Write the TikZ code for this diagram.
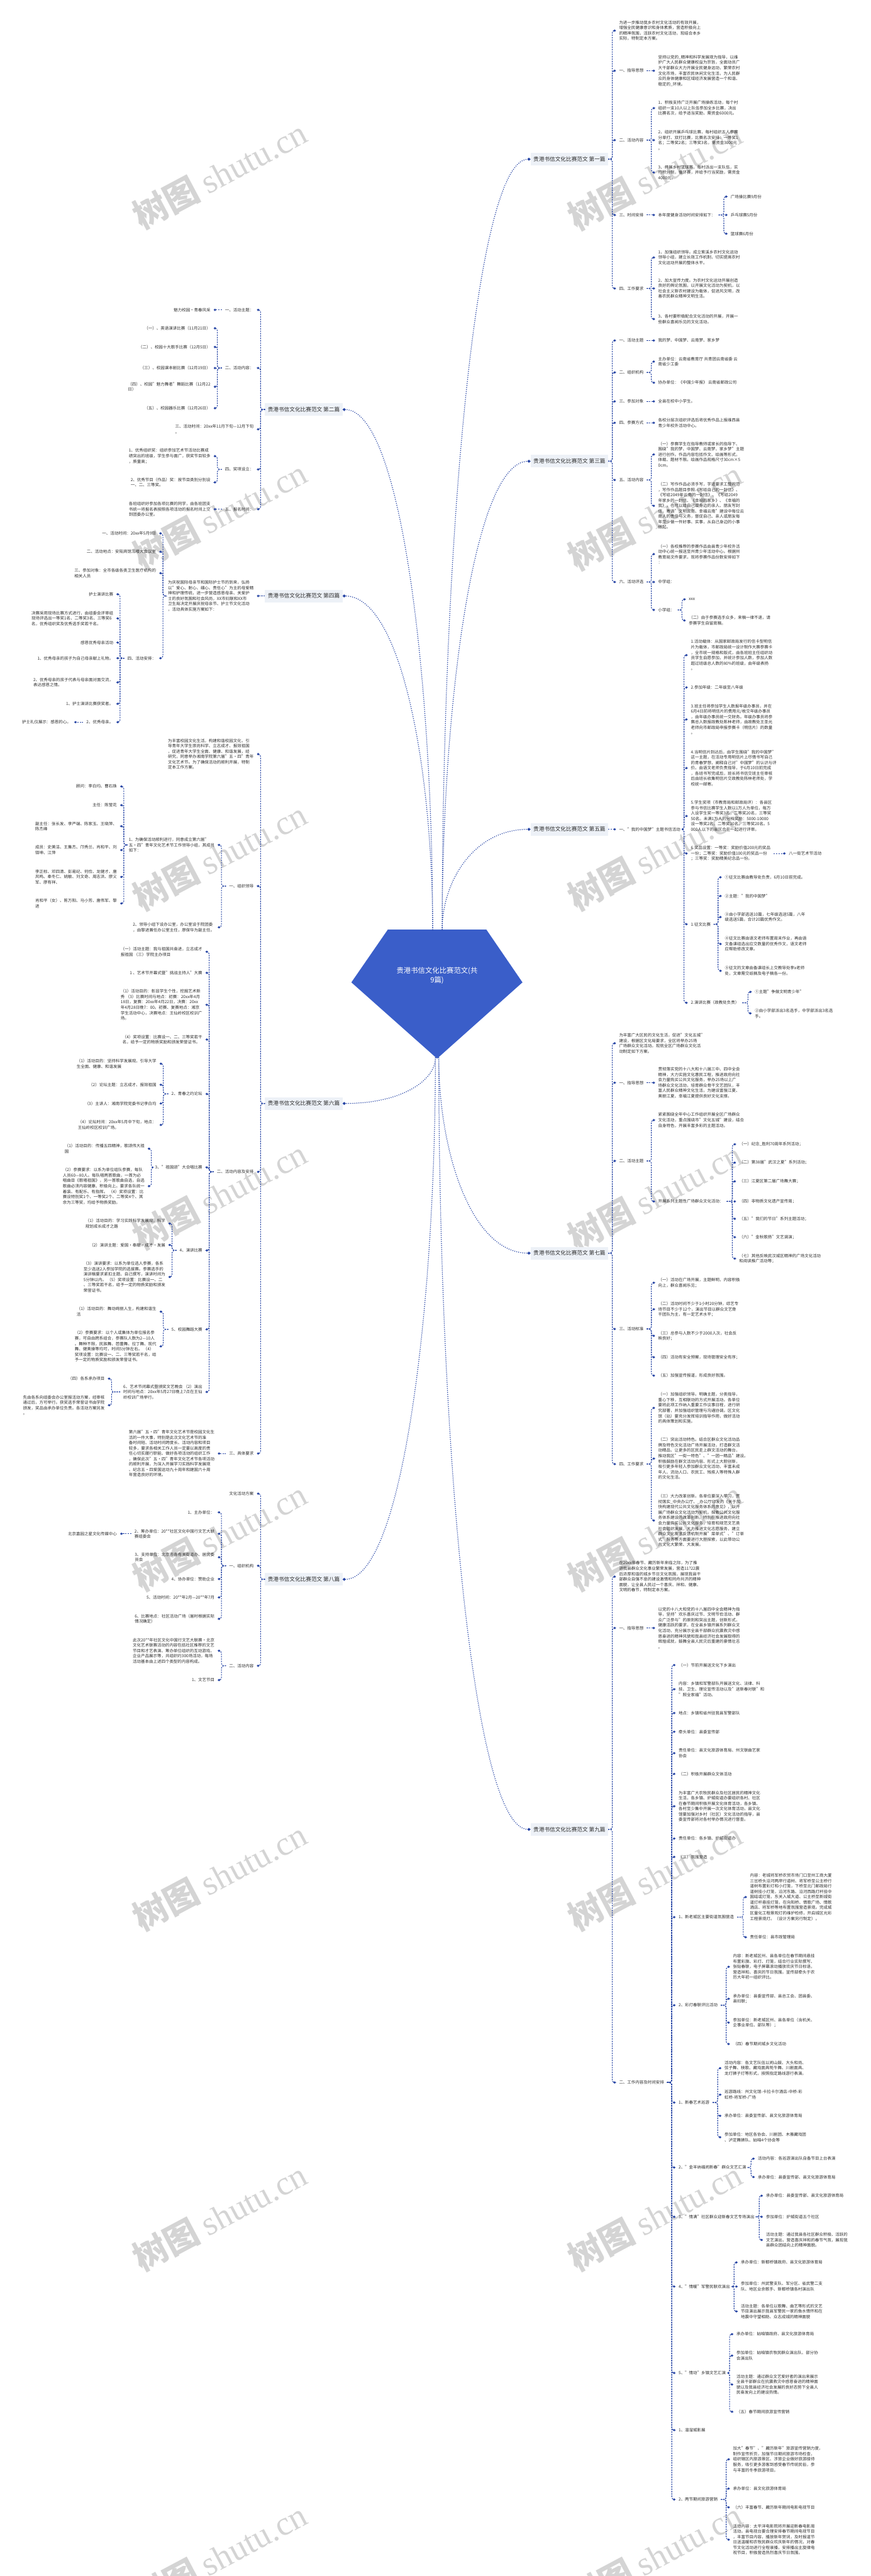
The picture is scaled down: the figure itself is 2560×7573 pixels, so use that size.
\documentclass[tikz,border=0pt]{standalone}
\usepackage{fontspec}
\setmainfont{Noto Sans CJK SC}
\newfontfamily\wmlatin{Liberation Serif}
\usetikzlibrary{arrows.meta}
\definecolor{linkblue}{RGB}{40,70,165}
\definecolor{hubblue}{RGB}{58,94,201}
\definecolor{labbg}{RGB}{237,241,247}
\definecolor{txt}{RGB}{45,45,45}
\newcommand\leaffont{\fontsize{12}{15.8}\selectfont}
\tikzset{
	rn/.style={anchor=west, align=left, font=\leaffont, text=txt, inner xsep=9pt, inner ysep=1pt},
	ln/.style={anchor=east, align=left, font=\leaffont, text=txt, inner xsep=9pt, inner ysep=1pt},
	plr/.style={anchor=east, fill=labbg, text=txt, font=\fontsize{16}{19}\selectfont, minimum height=37pt, inner xsep=8pt},
	pll/.style={plr, anchor=west},
	lnk/.style={draw=linkblue, line width=2pt, dash pattern=on 4pt off 3pt, rounded corners=7pt, -{Diamond[length=8pt,width=7pt]}},
	rl/.style={lnk, to path={-- ([xshift=-11pt]\tikztotarget.west |- \tikztostart) |- (\tikztotarget.west)}},
	ll/.style={lnk, to path={-- ([xshift=11pt]\tikztotarget.east |- \tikztostart) |- (\tikztotarget.east)}},
	mlnk/.style={draw=linkblue, line width=3.2pt, line cap=round, dash pattern=on 0pt off 6pt, -{Diamond[length=10pt,width=9pt]}},
	wm/.style={rotate=28, text=black!17, font=\fontsize{100}{100}\selectfont}
}

\begin{document}
\begin{tikzpicture}[x=1pt, y=-1pt]
			%%%%% START %%%%%
			\useasboundingbox (0,0) rectangle (2560,7573);
			
			\node[wm] (wm1) at (646,512) {{\bfseries 树图} {\wmlatin shutu.cn}};
			\node[wm] (wm2) at (646,1512) {{\bfseries 树图} {\wmlatin shutu.cn}};
			\node[wm] (wm3) at (646,2515) {{\bfseries 树图} {\wmlatin shutu.cn}};
			\node[wm] (wm4) at (646,3512) {{\bfseries 树图} {\wmlatin shutu.cn}};
			\node[wm] (wm5) at (646,4515) {{\bfseries 树图} {\wmlatin shutu.cn}};
			\node[wm] (wm6) at (646,5515) {{\bfseries 树图} {\wmlatin shutu.cn}};
			\node[wm] (wm7) at (646,6515) {{\bfseries 树图} {\wmlatin shutu.cn}};
			\node[wm] (wm8) at (646,7515) {{\bfseries 树图} {\wmlatin shutu.cn}};
			\node[wm] (wm9) at (1925,515) {{\bfseries 树图} {\wmlatin shutu.cn}};
			\node[wm] (wm10) at (1925,1515) {{\bfseries 树图} {\wmlatin shutu.cn}};
			\node[wm] (wm11) at (1925,2515) {{\bfseries 树图} {\wmlatin shutu.cn}};
			\node[wm] (wm12) at (1925,3515) {{\bfseries 树图} {\wmlatin shutu.cn}};
			\node[wm] (wm13) at (1925,4515) {{\bfseries 树图} {\wmlatin shutu.cn}};
			\node[wm] (wm14) at (1925,5515) {{\bfseries 树图} {\wmlatin shutu.cn}};
			\node[wm] (wm15) at (1925,6515) {{\bfseries 树图} {\wmlatin shutu.cn}};
			\node[wm] (wm16) at (1925,7515) {{\bfseries 树图} {\wmlatin shutu.cn}};
			
			\fill[hubblue] (1140,2733) -- (1430,2733) -- (1536,2888) -- (1285,3112) -- (1033,2888) -- cycle;
			\node[text=white, align=center, font=\fontsize{21}{29}\selectfont] (hub) at (1285,2868) {贵港书信文化比赛范文(共\\9篇)};
			\coordinate (htr) at (1300,2733);
			\coordinate (htl) at (1272,2733);
			\coordinate (hbr) at (1290,3110);
			\coordinate (hbl) at (1280,3110);
			
			\node[plr] (p1) at (1788,468) {贵港书信文化比赛范文 第一篇};
			\node[plr] (p3) at (1788,1356) {贵港书信文化比赛范文 第三篇};
			\node[plr] (p5) at (1788,2438) {贵港书信文化比赛范文 第五篇};
			\node[plr] (p7) at (1788,3684) {贵港书信文化比赛范文 第七篇};
			\node[plr] (p9) at (1788,5378) {贵港书信文化比赛范文 第九篇};
			\node[pll] (p2) at (779,1204) {贵港书信文化比赛范文 第二篇};
			\node[pll] (p4) at (779,1752) {贵港书信文化比赛范文 第四篇};
			\node[pll] (p6) at (779,3244) {贵港书信文化比赛范文 第六篇};
			\node[pll] (p8) at (779,4643) {贵港书信文化比赛范文 第八篇};
			
			\draw[mlnk] (htr) .. controls (1300,1646) and (1393,468) .. (p1.west);
			\draw[mlnk] (htr) .. controls (1300,2072) and (1393,1356) .. (p3.west);
			\draw[mlnk] (htr) .. controls (1300,2591) and (1393,2438) .. (p5.west);
			\draw[mlnk] (hbr) .. controls (1290,3387) and (1386,3684) .. (p7.west);
			\draw[mlnk] (hbr) .. controls (1290,4200) and (1386,5378) .. (p9.west);
			\draw[mlnk] (htl) .. controls (1272,2000) and (1180,1204) .. (p2.east);
			\draw[mlnk] (htl) .. controls (1272,2262) and (1180,1752) .. (p4.east);
			\draw[mlnk] (hbl) .. controls (1280,3175) and (1183,3244) .. (p6.east);
			\draw[mlnk] (hbl) .. controls (1280,3847) and (1183,4643) .. (p8.east);
			
			% 第一篇
			\node[rn] (p1a) at (1811,90) {为进一步推动我乡农村文化活动的有效开展，\\增强全民健康意识和身体素质，营造积极向上\\的精神氛围，活跃农村文化活动，现结合本乡\\实际，特制定本方案。};
			\node[rn] (p1b) at (1811,208) {一、指导思想};
			\node[rn] (p1b1) at (1926,208) {坚持以党的\_精神和科学发展观为指导，以维\\护广大人民群众健康权益为宗旨，全面动员广\\大干部群众大力开展全民健身运动，繁荣农村\\文化市场，丰富农民休闲文化生活，为人民群\\众的身体健康和区域经济发展营造一个和谐、\\稳定的\_环境。};
			\node[rn] (p1c) at (1811,412) {二、活动内容};
			\node[rn] (p1c1) at (1926,318) {1、积极支持广泛开展广场操练活动，每个村\\组织一支10人以上队伍参加全乡比赛，决出\\比赛名次，给予适当奖励，需资金6000元。};
			\node[rn] (p1c2) at (1926,412) {2、组织开展乒乓球比赛，每村组织五人参赛\\分单打、双打比赛，比赛名次安排：一等奖1\\名；二等奖2名；三等奖3名，需资金3000元\\。};
			\node[rn] (p1c3) at (1926,507) {3、开展乡村篮球赛，每村派出一支队伍，实\\行积分制，循环赛，并给予行当奖励，需资金\\4000元。};
			\node[rn] (p1d) at (1811,632) {三、时间安排};
			\node[rn] (p1d1) at (1926,632) {本年度健身活动时间安排如下：};
			\node[rn] (p1d1a) at (2139,578) {广场操比赛9月份};
			\node[rn] (p1d1b) at (2139,632) {乒乓球赛5月份};
			\node[rn] (p1d1c) at (2139,687) {篮球赛6月份};
			\node[rn] (p1e) at (1811,848) {四、工作要求};
			\node[rn] (p1e1) at (1926,757) {1、加强组织领导。成立紫溪乡农村文化运动\\领导小组，建立长效工作机制，切实提高农村\\文化运动开展的整体水平。};
			\node[rn] (p1e2) at (1926,848) {2、加大宣传力度。为农村文化运动开展创造\\良好的舆论氛围，以开展文化活动为契机，以\\社会主义新农村建设为载体，促进风文明，改\\善农民群众精神文明生活。};
			\node[rn] (p1e3) at (1926,938) {3、各村要积极配合文化活动的开展，开展一\\些群众喜闻乐见的文化活动。};
			
			\draw[rl] (p1.east) to (p1a);
			\draw[rl] (p1.east) to (p1b);
			\draw[rl] (p1.east) to (p1c);
			\draw[rl] (p1.east) to (p1d);
			\draw[rl] (p1.east) to (p1e);
			\draw[lnk] (p1b.east) -- (p1b1.west);
			\draw[rl] (p1c.east) to (p1c1);
			\draw[lnk] (p1c.east) -- (p1c2.west);
			\draw[rl] (p1c.east) to (p1c3);
			\draw[lnk] (p1d.east) -- (p1d1.west);
			\draw[rl] (p1d1.east) to (p1d1a);
			\draw[lnk] (p1d1.east) -- (p1d1b.west);
			\draw[rl] (p1d1.east) to (p1d1c);
			\draw[rl] (p1e.east) to (p1e1);
			\draw[lnk] (p1e.east) -- (p1e2.west);
			\draw[rl] (p1e.east) to (p1e3);
			
			% 第三篇
			\node[rn] (p3a) at (1811,1001) {一、活动主题};
			\node[rn] (p3a1) at (1926,1001) {我的梦、中国梦、云南梦、家乡梦};
			\node[rn] (p3b) at (1811,1095) {二、组织机构};
			\node[rn] (p3b1) at (1926,1063) {主办单位：云南省教育厅 共青团云南省委 云\\南省少工委};
			\node[rn] (p3b2) at (1926,1125) {协办单位：《中国少年报》 云南省邮政公司};
			\node[rn] (p3c) at (1811,1180) {三、参加对象};
			\node[rn] (p3c1) at (1926,1180) {全县在校中小学生。};
			\node[rn] (p3d) at (1811,1243) {四、参赛方式};
			\node[rn] (p3d1) at (1926,1243) {各校分层次组织评选后将优秀作品上报维西县\\青少年校外活动中心。};
			\node[rn] (p3e) at (1811,1411) {五、活动内容};
			\node[rn] (p3e1) at (1926,1336) {（一）参赛学生在指导教师或家长的指导下、\\围绕"我的梦、中国梦、云南梦、家乡梦"主题\\进行创作。作品内容包括作文、绘画等形式，\\体裁、题材不限。绘画作品规格尺寸30cm×5\\0cm。};
			\node[rn] (p3e2) at (1926,1487) {（二）写作作品必须手写，字迹要求工整规范\\，写作作品题目参照《写给自己的一封信》、\\《写给2049年云南的一封信》、《写给2049\\年家乡的一封信、《幸福的家乡》、《幸福的\\我》，也可以给自己或身边的亲人、朋友写封\\信，寄语"文明云南、幸福云南"建设中每位云\\南人的责任与义务，督促自己、亲人或朋友每\\年至少做一件好事、实事，从自己身边的小事\\做起。};
			\node[rn] (p3f) at (1811,1711) {六、活动评选};
			\node[rn] (p3f1) at (1926,1629) {（一）各校推荐的参赛作品由县青少年校外活\\动中心统一报送至州青少年活动中心。根据州\\教育局文件要求，现将参赛作品份数安排如下\\：};
			\node[rn] (p3f2) at (1926,1711) {中学组：};
			\node[rn] (p3f3) at (1926,1793) {小学组：};
			\node[rn] (p3f3a) at (2016,1762) {xxx};
			\node[rn] (p3f3b) at (2016,1824) {（二）由于参赛选手众多，来稿一律不退，请\\参赛学生自留底稿。};
			
			\draw[rl] (p3.east) to (p3a);
			\draw[rl] (p3.east) to (p3b);
			\draw[rl] (p3.east) to (p3c);
			\draw[rl] (p3.east) to (p3d);
			\draw[rl] (p3.east) to (p3e);
			\draw[rl] (p3.east) to (p3f);
			\draw[lnk] (p3a.east) -- (p3a1.west);
			\draw[rl] (p3b.east) to (p3b1);
			\draw[rl] (p3b.east) to (p3b2);
			\draw[lnk] (p3c.east) -- (p3c1.west);
			\draw[lnk] (p3d.east) -- (p3d1.west);
			\draw[rl] (p3e.east) to (p3e1);
			\draw[rl] (p3e.east) to (p3e2);
			\draw[rl] (p3f.east) to (p3f1);
			\draw[lnk] (p3f.east) -- (p3f2.west);
			\draw[rl] (p3f.east) to (p3f3);
			\draw[rl] (p3f3.east) to (p3f3a);
			\draw[rl] (p3f3.east) to (p3f3b);
			
			% 第五篇
			\node[rn] (p5a) at (1811,2438) {一、"我的中国梦"主题书信活动};
			\node[rn] (p5a1) at (2022,1926) {1.活动载体：从国家邮政局发行的信卡型明信\\片为载体，市邮政局统一设计制作大赛参赛卡\\，全市统一规格和版式，由各班班主任组织动\\员学生自愿参加，并统计参加人数，参加人数\\超过班级总人数的80\%的班级，由年级表扬\\。};
			\node[rn] (p5a2) at (2022,2021) {2.参加年级：二年级至八年级};
			\node[rn] (p5a3) at (2022,2115) {3.班主任将参加学生人数报年级办事员，并在\\6月4日前将明信片的费用元/枚交年级办事员\\，由年级办事员统一交财务。年级办事员将参\\赛总人数报政教处陈林老师，由政教处王圣光\\老师向市邮政局申报参赛卡（明信片）的数量\\。};
			\node[rn] (p5a4) at (2022,2258) {4.当明信片到达后，由学生围绕"我的中国梦"\\这一主题，在活动专用明信片上尽情书写自己\\的青春梦想，阐释自己对"中国梦"的认识与评\\价。由语文老师负责指导，于6月10日前完成\\，各班书写完成后，班长将书信交班主任审核\\后由班长收集明信片交政教处陈林老师处，学\\校统一邮寄。};
			\node[rn] (p5a5) at (2022,2399) {5.学生奖项（市教育局和邮政局评）：各县区\\参与书信比赛学生人数以1万人为单位，每万\\人设学生奖一等奖3名，二等奖20名，三等奖\\50名。未满1万人的分档奖励：5000-10000\\设一等奖2名，二等奖10名，三等奖20名。5\\000人以下的县区合在一起进行评审。};
			\node[rn] (p5a6) at (2022,2509) {6.奖品设置：一等奖：奖励价值200元的奖品\\一份；二等奖：奖励价值100元的奖品一份\\；三等奖：奖励精美纪念品一份。};
			\node[rn] (p5a6a) at (2310,2509) {八一街艺术节活动};
			\node[rn] (p5a7) at (2022,2717) {1.征文比赛};
			\node[rn] (p5a7a) at (2122,2579) {①征文比赛由教导处负责，6月10日前完成。};
			\node[rn] (p5a7b) at (2122,2634) {②主题："我的中国梦"};
			\node[rn] (p5a7c) at (2122,2696) {③由小学部选送10篇，七年级选送5篇，八年\\级选送5篇，合计20篇优秀作文。};
			\node[rn] (p5a7d) at (2122,2775) {④征文比赛由语文老师布置周末作业，再由语\\文备课组选出应交数量的优秀作文，语文老师\\应帮助修改文章。};
			\node[rn] (p5a7e) at (2122,2854) {⑤征文的文章由备课组长上交教导处李x老师\\处，文章需交纸稿及电子稿各一份。};
			\node[rn] (p5a8) at (2022,2948) {2.演讲比赛（政教处负责）};
			\node[rn] (p5a8a) at (2210,2916) {①主题"争做文明青少年"};
			\node[rn] (p5a8b) at (2210,2979) {②由小学部派出3名选手，中学部派出3名选\\手。};
			
			\draw[lnk] (p5.east) -- (p5a.west);
			\draw[rl] (p5a.east) to (p5a1);
			\draw[rl] (p5a.east) to (p5a2);
			\draw[rl] (p5a.east) to (p5a3);
			\draw[rl] (p5a.east) to (p5a4);
			\draw[rl] (p5a.east) to (p5a5);
			\draw[rl] (p5a.east) to (p5a6);
			\draw[rl] (p5a.east) to (p5a7);
			\draw[rl] (p5a.east) to (p5a8);
			\draw[lnk] (p5a6.east |- p5a6a.west) -- (p5a6a.west);
			\draw[rl] (p5a7.east) to (p5a7a);
			\draw[rl] (p5a7.east) to (p5a7b);
			\draw[rl] (p5a7.east) to (p5a7c);
			\draw[rl] (p5a7.east) to (p5a7d);
			\draw[rl] (p5a7.east) to (p5a7e);
			\draw[rl] (p5a8.east) to (p5a8a);
			\draw[rl] (p5a8.east) to (p5a8b);
			
			% 第七篇
			\node[rn] (p7a) at (1811,3067) {为丰富广大区民的文化生活，促进"文化五城"\\建设，根据区文化局要求，全区将举办25场\\广场群众文化活动。现就全区广场群众文化活\\动制定如下方案。};
			\node[rn] (p7b) at (1811,3183) {一、指导思想};
			\node[rn] (p7b1) at (1926,3183) {贯彻落实党的十八大和十八届三中、四中全会\\精神，大力实施文化惠民工程，推进政府向社\\会力量购买公共文化服务，举办25场以上广\\场群众文化活动，培育群众骨干文艺团队，丰\\富人民群众精神文化生活，为建设富强江夏、\\美丽江夏、幸福江夏提供良好文化支撑。};
			\node[rn] (p7c) at (1811,3413) {二、活动主题};
			\node[rn] (p7c1) at (1926,3293) {紧紧围绕全年中心工作组织开展全区广场群众\\文化活动，重点围绕市"文化五城"建设，结合\\自身特色，开展丰富多彩的主题活动。};
			\node[rn] (p7c2) at (1926,3532) {开展系列主题性广场群众文化活动：};
			\node[rn] (p7c2a) at (2164,3364) {（一）纪念\_胜利70周年系列活动；};
			\node[rn] (p7c2b) at (2164,3418) {（二）第38届"武汉之夏"系列活动；};
			\node[rn] (p7c2c) at (2164,3473) {（三）江夏区第二届广场舞大赛；};
			\node[rn] (p7c2d) at (2164,3532) {（四）非物质文化遗产宣传周；};
			\node[rn] (p7c2e) at (2164,3583) {（五）"我们的节日"系列主题活动；};
			\node[rn] (p7c2f) at (2164,3637) {（六）"金秋歌扬"文艺调演；};
			\node[rn] (p7c2g) at (2164,3700) {（七）其他反映武汉城区精神的广场文化活动\\和阅读推广活动等；};
			\node[rn] (p7d) at (1811,3907) {三、活动标准};
			\node[rn] (p7d1) at (1926,3771) {（一）活动在广场开展，主题鲜明，内容积极\\向上，群众喜闻乐见；};
			\node[rn] (p7d2) at (1926,3849) {（二）活动时间不少于1小时20分钟，综艺专\\场节目不少于12个，演出节目以群众文艺骨\\干团队为主，有一定艺术水平；};
			\node[rn] (p7d3) at (1926,3927) {（三）总参与人数不少于2000人次，社会反\\映良好；};
			\node[rn] (p7d4) at (1926,3990) {（四）活动有安全预案，现场管理安全有序；};
			\node[rn] (p7d5) at (1926,4044) {（五）加强宣传报道，形成良好氛围。};
			\node[rn] (p7e) at (1811,4304) {四、工作要求};
			\node[rn] (p7e1) at (1926,4139) {（一）加强组织领导。明确主题，分类指导，\\重心下移，互相联动的方式开展活动。各单位\\要将此项工作纳入重要工作议事日程，进行研\\究部署，并加强组织管理与沟通协调。区文化\\馆（站）要充分发挥培训指导作用，做好活动\\的具体策划和实施。};
			\node[rn] (p7e2) at (1926,4288) {（二）突出活动特色。结合区群众文化活动品\\牌及特色文化活动广场开展活动，打造群文活\\动精品，让更多的区民走上群文活动的舞台，\\推动我区"一街一特色"、"一团一精品"建设。\\积极鼓励在群文活动内容、形式上大胆创新，\\吸引更多年轻人参加群众文化活动，丰富未成\\年人、流动人口、农民工、残疾人等特殊人群\\的文化生活。};
			\node[rn] (p7e3) at (1926,4470) {（三）大力改革创新。各单位要深入学习，贯\\彻落实\_中央办公厅、\_办公厅印发的《关于加\\快构建现代公共文化服务体系的意见》，以开\\展广场群众文化活动为契机，探索公共文化服\\务体系建设的改革创新。特别在推进政府向社\\会力量购买公共文化服务，培育和规范文艺类\\社会组织发展，大力推进文化志愿服务，建立\\群众文化需求反馈机制开展"菜单式"、"订单\\式"服务等方面要进行大胆探索，以此带动公\\共文化大繁荣、大发展。};
			
			\draw[rl] (p7.east) to (p7a);
			\draw[rl] (p7.east) to (p7b);
			\draw[rl] (p7.east) to (p7c);
			\draw[rl] (p7.east) to (p7d);
			\draw[rl] (p7.east) to (p7e);
			\draw[lnk] (p7b.east) -- (p7b1.west);
			\draw[rl] (p7c.east) to (p7c1);
			\draw[rl] (p7c.east) to (p7c2);
			\draw[rl] (p7c2.east) to (p7c2a);
			\draw[rl] (p7c2.east) to (p7c2b);
			\draw[rl] (p7c2.east) to (p7c2c);
			\draw[lnk] (p7c2.east) -- (p7c2d.west);
			\draw[rl] (p7c2.east) to (p7c2e);
			\draw[rl] (p7c2.east) to (p7c2f);
			\draw[rl] (p7c2.east) to (p7c2g);
			\draw[rl] (p7d.east) to (p7d1);
			\draw[rl] (p7d.east) to (p7d2);
			\draw[rl] (p7d.east) to (p7d3);
			\draw[rl] (p7d.east) to (p7d4);
			\draw[rl] (p7d.east) to (p7d5);
			\draw[rl] (p7e.east) to (p7e1);
			\draw[rl] (p7e.east) to (p7e2);
			\draw[rl] (p7e.east) to (p7e3);
			
			% 第九篇
			\node[rn] (p9a) at (1811,4635) {在20xx年春节、藏历新年来临之际，为了推\\进我县群众文化事业繁荣发展，营造11?22震\\后浓厚和谐的城乡节日文化氛围，展现我县干\\部群众自强不息的建设激情和同舟共济的精神\\面貌，让全县人民过一个喜庆、祥和、健康、\\文明的春节，特制定本方案。};
			\node[rn] (p9b) at (1811,4786) {一、指导思想};
			\node[rn] (p9b1) at (1926,4786) {以党的十八大和党的十八届四中全会精神为指\\导，坚持"欢乐喜庆过节、文明节俭活动、群\\众广泛参与"的原则和突出主题，创新形式，\\健康活跃的要求，在全县乡镇开展系列群众文\\化活动，充分展示全县干部群众抗震救灾中感\\恩奋进的精神风貌和我县经济社会发展取得的\\辉煌成就，鼓舞全县人民灾后重建的豪情壮志\\。};
			\node[rn] (p9c) at (1811,6122) {二、工作内容及时间安排};
			\node[rn] (q1) at (1986,4895) {（一）节前开展送文化下乡演出};
			\node[rn] (q2) at (1986,4966) {内容：乡镇和军警部队开展送文化、法律、科\\技、卫生、理论宣传活动以及"送新春对联"和\\"照全家福"活动。};
			\node[rn] (q3) at (1986,5036) {地点：乡镇和省州驻我县军警部队};
			\node[rn] (q4) at (1986,5091) {牵头单位：县委宣传部};
			\node[rn] (q5) at (1986,5154) {责任单位：县文化旅游体育局、州文联曲艺家\\协会};
			\node[rn] (q6) at (1986,5215) {（二）积极开展群众文体活动};
			\node[rn] (q7) at (1986,5310) {为丰富广大农牧民群众及社区居民的精神文化\\生活，各乡镇、炉城街道办要组织各村、社区\\在春节期间积极开展文化体育活动，各乡镇、\\各村至少集中开展一次文化体育活动，县文化\\馆要加强对乡村（社区）文化活动的指导，县\\委宣传部将对各村举办情况进行督查。};
			\node[rn] (q8) at (1986,5405) {责任单位：各乡镇、炉城街道办};
			\node[rn] (q9) at (1986,5459) {（三）氛围营造};
			\node[rn] (q10) at (1986,5636) {1、新老城区主要街道氛围营造};
			\node[rn] (q10a) at (2196,5577) {内容：老城将军桥农贸市场门口至州工商大厦\\三岔桥头沿河两岸行道树、将军桥至公主桥行\\道树布置彩灯和小灯笼，下桥至北门邮政局行\\道树挂小灯笼，沿河东路、沿河西路灯杆挂中\\国结或灯笼，东关入城大道、公主桥至新城街\\道灯杆悬挂灯笼，在向阳桥、情歌广场、情歌\\酒店、将军桥等地布置氛围营造景观。完成城\\区量化工程景观灯的维护检修，开启城区光彩\\工程景观灯。（设计方案另行制定）。};
			\node[rn] (q10b) at (2196,5695) {责任单位：县市政管理局};
			\node[rn] (q11) at (1986,5895) {2、彩灯春联评比活动};
			\node[rn] (q11a) at (2146,5782) {内容：新老城区州、县各单位在春节期间悬挂\\布置彩旗、彩灯、灯笼，结合行业实际撰写、\\张贴春联，电子屏幕滚动播放欢庆节日标语，\\营造祥和、喜庆的节日氛围。宣传部牵头于农\\历大年初一组织评比。};
			\node[rn] (q11b) at (2146,5876) {承办单位：县委宣传部、县总工会、团县委、\\县妇联；};
			\node[rn] (q11c) at (2146,5946) {参加单位：新老城区州、县各单位（含机关、\\企事业单位、部队等）；};
			\node[rn] (q11d) at (2146,6009) {（四）春节期间城乡文化活动};
			\node[rn] (q12) at (1986,6181) {1、新春艺术巡游};
			\node[rn] (q12a) at (2121,6080) {活动内容：各文艺队伍以闹山鼓、大头和尚、\\弦子舞、秧歌、藏戏面具牦牛舞、川剧面具、\\龙灯狮子灯等形式，按照指定路线游行表演。};
			\node[rn] (q12b) at (2121,6158) {巡游路线：州文化馆-卡拉卡尔酒店-中桥-彩\\虹桥-将军桥-广场};
			\node[rn] (q12c) at (2121,6220) {承办单位：县委宣传部、县文化旅游体育局};
			\node[rn] (q12d) at (2121,6283) {参加单位：地区各协会、川剧团、木雅藏戏团\\、泸定舞狮队、姑咱4个协会等};
			\node[rn] (q13) at (1986,6372) {2、"金羊纳福闹新春"群众文艺汇演};
			\node[rn] (q13a) at (2219,6346) {活动内容：各巡游演出队自备节目上台表演};
			\node[rn] (q13b) at (2219,6400) {承办单位：县委宣传部、县文化旅游体育局};
			\node[rn] (q14) at (1986,6517) {3、"情满"社区群众迎新春文艺专场演出};
			\node[rn] (q14a) at (2243,6455) {承办单位：县委宣传部、县文化旅游体育局};
			\node[rn] (q14b) at (2243,6517) {参加单位：炉城街道五个社区};
			\node[rn] (q14c) at (2243,6585) {活动主题：通过我县各社区群众积极、活跃的\\文艺演出，营造喜庆祥和的春节气氛，展现我\\县群众团结向上的精神面貌。};
			\node[rn] (q15) at (1986,6722) {4、"情暖"军警民联欢演出};
			\node[rn] (q15a) at (2169,6651) {承办单位：新都桥镇政府、县文化旅游体育局};
			\node[rn] (q15b) at (2169,6722) {参加单位：州武警支队、军分区、省武警二支\\队、地区业余歌手、新都桥镇各村演出队};
			\node[rn] (q15c) at (2169,6795) {活动主题：各单位以歌舞、曲艺等形式的文艺\\节目演出展示我县军警民一家的鱼水情怀和在\\地震中守望相助、众志成城的精神面貌};
			\node[rn] (q16) at (1986,6976) {5、"情动"乡镇文艺汇演};
			\node[rn] (q16a) at (2156,6862) {承办单位：姑咱镇政府、县文化旅游体育局};
			\node[rn] (q16b) at (2156,6925) {参加单位：姑咱镇农牧民群众演出队、部分协\\会演出队};
			\node[rn] (q16c) at (2156,7010) {活动主题：通过群众文艺爱好者的演出来展示\\全县干部群众在抗震救灾中感恩奋进的精神面\\貌以及我县经济社会发展的良好态势下全县人\\民奋发向上的建设热情。};
			\node[rn] (q16d) at (2156,7090) {（五）春节期间旅游宣传营销};
			\node[rn] (q17) at (1986,7144) {1、溜溜城影展};
			\node[rn] (q18) at (1986,7348) {2、两节期间旅游营销};
			\node[rn] (q18a) at (2146,7230) {加大"春节"、"藏历新年"旅游宣传营销力度，\\制作宣传折页，加强节日期间旅游市场检查，\\组织辖区内旅游景区、涉旅企业做好旅游接待\\服务，吸引更多游客到感受春节传统民俗，参\\与丰富的冬季旅游项目。};
			\node[rn] (q18b) at (2146,7316) {承办单位：县文化旅游体育局};
			\node[rn] (q18c) at (2146,7371) {（六）丰富春节、藏历新年期间电影电视节目};
			\node[rn] (q18d) at (2146,7466) {活动内容：太平洋电影院将开展迎新春电影周\\活动。县电视台要合理安排春节期间电视节目\\，丰富节目内容，播放新年贺词，及时报道节\\日送温暖和农牧民群众欢庆新年的情况，对春\\节文化活动进行全程录播，安排播出主旋律电\\视节目，积极营造热烈喜庆节日氛围。};
			
			\draw[rl] (p9.east) to (p9a);
			\draw[rl] (p9.east) to (p9b);
			\draw[rl] (p9.east) to (p9c);
			\draw[lnk] (p9b.east) -- (p9b1.west);
			\draw[rl] (p9c.east) to (q1);
			\draw[rl] (p9c.east) to (q2);
			\draw[rl] (p9c.east) to (q3);
			\draw[rl] (p9c.east) to (q4);
			\draw[rl] (p9c.east) to (q5);
			\draw[rl] (p9c.east) to (q6);
			\draw[rl] (p9c.east) to (q7);
			\draw[rl] (p9c.east) to (q8);
			\draw[rl] (p9c.east) to (q9);
			\draw[rl] (p9c.east) to (q10);
			\draw[rl] (p9c.east) to (q11);
			\draw[rl] (p9c.east) to (q12);
			\draw[rl] (p9c.east) to (q13);
			\draw[rl] (p9c.east) to (q14);
			\draw[rl] (p9c.east) to (q15);
			\draw[rl] (p9c.east) to (q16);
			\draw[rl] (p9c.east) to (q17);
			\draw[rl] (p9c.east) to (q18);
			\draw[rl] (q10.east) to (q10a);
			\draw[rl] (q10.east) to (q10b);
			\draw[rl] (q11.east) to (q11a);
			\draw[rl] (q11.east) to (q11b);
			\draw[rl] (q11.east) to (q11c);
			\draw[rl] (q11.east) to (q11d);
			\draw[rl] (q12.east) to (q12a);
			\draw[rl] (q12.east) to (q12b);
			\draw[rl] (q12.east) to (q12c);
			\draw[rl] (q12.east) to (q12d);
			\draw[rl] (q13.east) to (q13a);
			\draw[rl] (q13.east) to (q13b);
			\draw[rl] (q14.east) to (q14a);
			\draw[lnk] (q14.east) -- (q14b.west);
			\draw[rl] (q14.east) to (q14c);
			\draw[rl] (q15.east) to (q15a);
			\draw[lnk] (q15.east) -- (q15b.west);
			\draw[rl] (q15.east) to (q15c);
			\draw[rl] (q16.east) to (q16a);
			\draw[rl] (q16.east) to (q16b);
			\draw[rl] (q16.east) to (q16c);
			\draw[rl] (q16.east) to (q16d);
			\draw[rl] (q18.east) to (q18a);
			\draw[rl] (q18.east) to (q18b);
			\draw[rl] (q18.east) to (q18c);
			\draw[rl] (q18.east) to (q18d);
			
			% 第二篇
			\node[ln] (p2a) at (755,911) {一、活动主题：};
			\node[ln] (p2a1) at (628,911) {魅力校园·青春风采};
			\node[ln] (p2b) at (755,1082) {二、活动内容：};
			\node[ln] (p2b1) at (628,965) {（一）、英语演讲比赛（11月21日）};
			\node[ln] (p2b2) at (628,1020) {（二）、校园十大歌手比赛（12月5日）};
			\node[ln] (p2b3) at (628,1082) {（三）、校园课本剧比赛（12月19日）};
			\node[ln] (p2b4) at (628,1137) {（四）、校园"魅力舞者"舞蹈比赛（12月22\\日）};
			\node[ln] (p2b5) at (628,1200) {（五）、校园器乐比赛（12月26日）};
			\node[ln] (p2c) at (755,1262) {三、活动时间：20xx年11月下旬—12月下旬\\。};
			\node[ln] (p2d) at (755,1380) {四、奖项设立：};
			\node[ln] (p2d1) at (628,1341) {1、优秀组织奖：组织参加艺术节活动比赛成\\绩突出的班级，学生参与面广，获奖节目较多\\，质量高；};
			\node[ln] (p2d2) at (628,1418) {2、优秀节目（作品）奖：按节目类别分别设\\一、二、三等奖。};
			\node[ln] (p2e) at (755,1497) {五、报名时间：};
			\node[ln] (p2e1) at (628,1497) {各班组织好参加各项比赛的同学，由各班团支\\书统一将报名表按照各项活动的报名时间上交\\到团委办公室。};
			
			\draw[ll] (p2.west) to (p2a);
			\draw[ll] (p2.west) to (p2b);
			\draw[ll] (p2.west) to (p2c);
			\draw[ll] (p2.west) to (p2d);
			\draw[ll] (p2.west) to (p2e);
			\draw[lnk] (p2a.west) -- (p2a1.east);
			\draw[ll] (p2b.west) to (p2b1);
			\draw[ll] (p2b.west) to (p2b2);
			\draw[lnk] (p2b.west) -- (p2b3.east);
			\draw[ll] (p2b.west) to (p2b4);
			\draw[ll] (p2b.west) to (p2b5);
			\draw[ll] (p2d.west) to (p2d1);
			\draw[ll] (p2d.west) to (p2d2);
			\draw[lnk] (p2e.west) -- (p2e1.east);
			
			% 第四篇
			\node[ln] (p4a) at (755,1752) {为庆祝国际母亲节和国际护士节的到来，弘扬\\以"爱心、耐心、细心、责任心"为主的母爱精\\神和护理传统，进一步营造感恩母亲、关爱护\\士的良好氛围和社会风尚，XX市妇联和XX市\\卫生局决定开展庆祝母亲节、护士节文化活动\\，活动具体实施方案如下：};
			\node[ln] (p4a1) at (468,1568) {一、活动时间：20xx年5月9日};
			\node[ln] (p4a2) at (468,1622) {二、活动地点：安陆宾馆三楼大会议室};
			\node[ln] (p4a3) at (468,1685) {三、参加对象：全市各级各类卫生医疗机构的\\相关人员};
			\node[ln] (p4a4) at (468,1935) {四、活动安排：};
			\node[ln] (k1) at (342,1747) {护士演讲比赛};
			\node[ln] (k2) at (342,1818) {决赛采用现场比赛方式进行，由组委会评审组\\现场评选出一等奖1名、二等奖3名、三等奖6\\名，优秀组织奖及优秀选手奖若干名。};
			\node[ln] (k3) at (342,1889) {感恩优秀母亲活动};
			\node[ln] (k4) at (342,1935) {1、优秀母亲的孩子为自己母亲献上礼物。};
			\node[ln] (k5) at (342,2006) {2、优秀母亲的孩子代表与母亲面对面交流，\\表达感恩之情。};
			\node[ln] (k6) at (342,2069) {1、护士演讲比赛获奖者。};
			\node[ln] (k7) at (342,2123) {2、优秀母亲。};
			\node[ln] (k7a) at (218,2123) {护士礼仪展示：感恩的心。};
			
			\draw[lnk] (p4.west) -- (p4a.east);
			\draw[ll] (p4a.west) to (p4a1);
			\draw[ll] (p4a.west) to (p4a2);
			\draw[ll] (p4a.west) to (p4a3);
			\draw[ll] (p4a.west) to (p4a4);
			\draw[ll] (p4a4.west) to (k1);
			\draw[ll] (p4a4.west) to (k2);
			\draw[ll] (p4a4.west) to (k3);
			\draw[lnk] (p4a4.west) -- (k4.east);
			\draw[ll] (p4a4.west) to (k5);
			\draw[ll] (p4a4.west) to (k6);
			\draw[ll] (p4a4.west) to (k7);
			\draw[lnk] (k7.west) -- (k7a.east);
			
			% 第六篇
			\node[ln] (p6a) at (755,2217) {为丰富校园文化生活，构建和谐校园文化，引\\导青年大学生崇尚科学、立志成才、报效祖国\\，促进青年大学生全面、健康、和谐发展，经\\研究，同意举办湘南学院第六届"五·四"青年\\文化艺术节。为了确保活动的顺利开展，特制\\定本工作方案。};
			\node[ln] (p6b) at (755,2605) {一、组织领导};
			\node[ln] (p6b1) at (640,2484) {1、为确保活动顺利进行，同意成立第六届"\\五·四"青年文化艺术节工作领导小组，其成员\\如下：};
			\node[ln] (m1) at (353,2312) {顾问：李白均、曹石珠};
			\node[ln] (m2) at (353,2367) {主任：陈莹花};
			\node[ln] (m3) at (353,2429) {副主任：张长发、李严端、陈家玉、王晓萍、\\陈杰峰};
			\node[ln] (m4) at (353,2499) {成员：史美洁、王集杰、邝秀兰、肖和平、刘\\铎坤、江萍};
			\node[ln] (m5) at (353,2578) {李正标、邓四清、彭易纪、何俭、龙健才、唐\\凤鸣、奉冬仁、姚敏、刘文奇、周志洪、廖义\\军、廖有祥、};
			\node[ln] (m6) at (353,2656) {肖和平（女）、陈万阳、马小芳、唐伟军、黎\\进};
			\node[ln] (p6b2) at (640,2726) {2、领导小组下设办公室，办公室设于院团委\\，由黎进兼任办公室主任，廖保华为副主任。};
			\node[ln] (p6c) at (755,3445) {二、活动内容及安排};
			\node[ln] (p6c1) at (604,2798) {（一）活动主题：我与祖国共奋进，立志成才\\报祖国 （三）学院主办项目};
			\node[ln] (p6c2) at (604,2860) {1 、艺术节开幕式暨"挑战主持人"大赛};
			\node[ln] (p6c3) at (604,2954) {（1）活动目的：彰显学生个性，挖掘艺术新\\秀 （3）比赛时间与地点：初赛：20xx年4月\\18日，复赛：20xx年4月22日，决赛：20xx\\年4月28日晚7：00。初赛、复赛地点：湘京\\学生活动中心，决赛地点：王仙岭校区校训广\\场。};
			\node[ln] (p6c4) at (604,3056) {（4）奖项设置：比赛设一、二、三等奖若干\\名，给予一定的物质奖励和颁发荣誉证书。};
			\node[ln] (p6c5) at (604,3216) {2、青春之约论坛};
			\node[ln] (n1) at (469,3127) {（1）活动目的：坚持科学发展观，引导大学\\生全面、健康、和谐发展};
			\node[ln] (n2) at (469,3189) {（2）论坛主题：立志成才、报效祖国};
			\node[ln] (n3) at (469,3244) {（3）主讲人：湘南学院党委书记李白均};
			\node[ln] (n4) at (469,3307) {（4）论坛时间：20xx年5月中下旬，地点：\\王仙岭校区校训广场。};
			\node[ln] (p6c6) at (604,3432) {3、"祖国颂"大合唱比赛};
			\node[ln] (n5) at (434,3377) {（1）活动目的：传播五四精神，歌颂伟大祖\\国};
			\node[ln] (n6) at (434,3487) {（2）参赛要求：以系为单位组队参赛，每队\\人员60—80人。每队唱两首歌曲，一首为必\\唱曲目《歌唱祖国》，另一首歌曲自选，自选\\歌曲必须内容健康、积极向上。要求各队统一\\着装、有配乐、有指挥。 （4）奖项设置：比\\赛设特别奖1个、一等奖2个、二等奖4个、其\\余为三等奖，均给予物质奖励。};
			\node[ln] (p6c7) at (604,3676) {4、演讲比赛};
			\node[ln] (n7) at (495,3597) {（1）活动目的：学习实践科学发展观，科学\\规划成长成才之路};
			\node[ln] (n8) at (495,3660) {（2）演讲主题：爱国·奉献·成才·发展};
			\node[ln] (n9) at (495,3754) {（3）演讲要求：以系为单位选人参赛，各系\\至少选送2人参加学院的选拔赛。参赛选手的\\演讲稿要求紧扣主题、自己撰写，演讲时间为\\5分钟以内。 （5）奖项设置：比赛设一、二\\、三等奖若干名，给予一定的物质奖励和颁发\\荣誉证书。};
			\node[ln] (p6c8) at (604,3908) {5、校园舞蹈大赛};
			\node[ln] (n10) at (469,3856) {（1）活动目的：舞动绚丽人生，构建和谐生\\活};
			\node[ln] (n11) at (469,3958) {（2）参赛要求：以个人或集体为单位报名参\\赛，可自由跨系组合，参赛队人数为2—10人\\。舞种不限，民族舞、芭蕾舞、拉丁舞、现代\\舞、健美操等均可，时间5分钟左右。 （4）\\奖项设置：比赛设一、二、三等奖若干名，给\\予一定的物质奖励和颁发荣誉证书。};
			\node[ln] (p6c9) at (604,4092) {6、艺术节闭幕式暨颁奖文艺晚会 （2）演出\\时间与地点：20xx年5月27日晚上7点在王仙\\岭校训广场举行。};
			\node[ln] (n12) at (317,4053) {（四）各系承办项目};
			\node[ln] (n13) at (317,4131) {先由各系向组委会办公室报活动方案，经审核\\通过后，方可举行。获奖选手荣誉证书由学院\\颁发，奖品由承办单位负责。各活动方案另发\\。};
			\node[ln] (p6d) at (755,4273) {三、具体要求};
			\node[ln] (p6d1) at (640,4273) {第六届"五·四"青年文化艺术节是校园文化生\\活的一件大事，特别是此次文化艺术节的准\\备时间短、活动时间跨度长、活动内容和项目\\较多，要求各相关工作人员一定要以高度的责\\任心切实履行职能、做好各项活动的组织工作\\，确保此次"五·四"青年文化艺术节各项活动\\的顺利开展，为深入开展学习实践科学发展观\\、纪念五·四爱国运动九十周年和建国六十周\\年营造良好的环境。};
			
			\draw[ll] (p6.west) to (p6a);
			\draw[ll] (p6.west) to (p6b);
			\draw[ll] (p6.west) to (p6c);
			\draw[ll] (p6.west) to (p6d);
			\draw[ll] (p6b.west) to (p6b1);
			\draw[ll] (p6b.west) to (p6b2);
			\draw[ll] (p6b1.west) to (m1);
			\draw[ll] (p6b1.west) to (m2);
			\draw[ll] (p6b1.west) to (m3);
			\draw[ll] (p6b1.west) to (m4);
			\draw[ll] (p6b1.west) to (m5);
			\draw[ll] (p6b1.west) to (m6);
			\draw[ll] (p6c.west) to (p6c1);
			\draw[ll] (p6c.west) to (p6c2);
			\draw[ll] (p6c.west) to (p6c3);
			\draw[ll] (p6c.west) to (p6c4);
			\draw[ll] (p6c.west) to (p6c5);
			\draw[ll] (p6c.west) to (p6c6);
			\draw[ll] (p6c.west) to (p6c7);
			\draw[ll] (p6c.west) to (p6c8);
			\draw[ll] (p6c.west) to (p6c9);
			\draw[ll] (p6c5.west) to (n1);
			\draw[ll] (p6c5.west) to (n2);
			\draw[ll] (p6c5.west) to (n3);
			\draw[ll] (p6c5.west) to (n4);
			\draw[ll] (p6c6.west) to (n5);
			\draw[ll] (p6c6.west) to (n6);
			\draw[ll] (p6c7.west) to (n7);
			\draw[ll] (p6c7.west) to (n8);
			\draw[ll] (p6c7.west) to (n9);
			\draw[ll] (p6c8.west) to (n10);
			\draw[ll] (p6c8.west) to (n11);
			\draw[ll] (p6c9.west) to (n12);
			\draw[ll] (p6c9.west) to (n13);
			\draw[lnk] (p6d.west) -- (p6d1.east);
			
			% 第八篇
			\node[ln] (p8a) at (755,4391) {文化活动方案};
			\node[ln] (p8b) at (755,4603) {一、组织机构};
			\node[ln] (p8b1) at (640,4446) {1、主办单位：};
			\node[ln] (p8b2) at (640,4509) {2、筹办单位：20**社区文化中国行文艺大联\\赛组委会};
			\node[ln] (p8b2a) at (353,4509) {北京嘉园之星文化传媒中心};
			\node[ln] (p8b3) at (640,4578) {3、支持单位：北京市各有关街道办、居民委\\员会};
			\node[ln] (p8b4) at (640,4642) {4、协办单位：赞助企业};
			\node[ln] (p8b5) at (640,4696) {5、活动时间：20**年2月—20**年7月};
			\node[ln] (p8b6) at (640,4759) {6、比赛地点：社区活动广场（届时根据实际\\情况确定）};
			\node[ln] (p8c) at (755,4897) {二、活动内容};
			\node[ln] (p8c1) at (640,4853) {此次20**年社区文化中国行文艺大联赛·北京\\文化艺术联赛活动的内容包括社区推荐的文艺\\节目和才艺表演、筹办单位组织的互动游戏、\\企业产品展示等，共组织约300场活动，每场\\活动基本由上述四个类型的内容构成。};
			\node[ln] (p8c2) at (640,4939) {1、文艺节目};
			
			\draw[ll] (p8.west) to (p8a);
			\draw[ll] (p8.west) to (p8b);
			\draw[ll] (p8.west) to (p8c);
			\draw[ll] (p8b.west) to (p8b1);
			\draw[ll] (p8b.west) to (p8b2);
			\draw[ll] (p8b.west) to (p8b3);
			\draw[ll] (p8b.west) to (p8b4);
			\draw[ll] (p8b.west) to (p8b5);
			\draw[ll] (p8b.west) to (p8b6);
			\draw[lnk] (p8b2.west) -- (p8b2a.east);
			\draw[ll] (p8c.west) to (p8c1);
			\draw[ll] (p8c.west) to (p8c2);
			
			%%%%% END %%%%%
\end{tikzpicture}
\end{document}
